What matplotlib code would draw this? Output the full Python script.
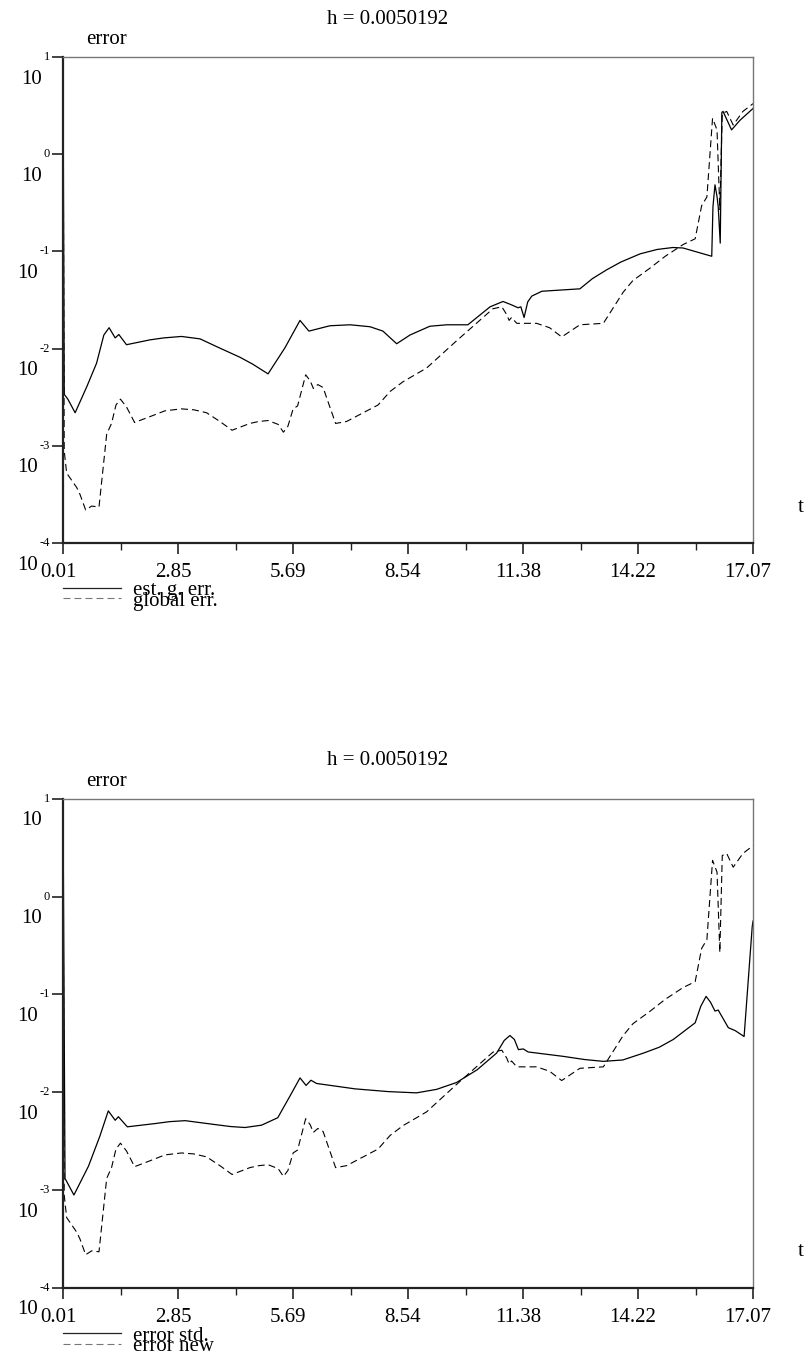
import matplotlib
matplotlib.use('Agg')
import matplotlib.pyplot as plt
import numpy as np
from matplotlib.transforms import ScaledTranslation

plt.rcParams['font.family'] = ['Liberation Serif', 'DejaVu Serif']

# ---------------- data (log10 of error) ----------------
title_text = "h = 0.0050192"
xtick_labels = ["0.01", "2.85", "5.69", "8.54", "11.38", "14.22", "17.07"]
ytick_exponents = [-4, -3, -2, -1, 0, 1]

# dashed curve: "global err." (top) / "error new" (bottom)
t_new = [0.01, 0.04, 0.10, 0.35, 0.43, 0.57, 0.72, 0.90, 1.09, 1.21, 1.32, 1.43,
         1.58, 1.78, 2.16, 2.53, 2.94, 3.25, 3.56, 3.89, 4.19, 4.63, 4.85, 5.08, 5.33, 5.46,
         5.57, 5.70, 5.81, 6.01, 6.12, 6.20, 6.31, 6.44, 6.75, 7.02, 7.80, 8.10,
         8.42, 9.00, 9.74, 10.64, 10.86, 10.98, 11.04, 11.10, 11.23, 11.72, 12.04,
         12.34, 12.79, 13.37, 13.86, 14.10, 14.53, 14.90, 15.34, 15.64, 15.80, 15.93, 16.07,
         16.18, 16.25, 16.31, 16.42, 16.58, 16.82, 17.07]
log_new = [1.0, -3.05, -3.28, -3.43, -3.50, -3.66, -3.62, -3.63, -2.88, -2.77, -2.58, -2.52,
           -2.60, -2.76, -2.70, -2.64, -2.62, -2.63, -2.66, -2.75, -2.84, -2.77, -2.75, -2.74, -2.78, -2.86,
           -2.80, -2.62, -2.59, -2.27, -2.33, -2.41, -2.37, -2.40, -2.77, -2.75, -2.58, -2.44,
           -2.34, -2.20, -1.92, -1.59, -1.57, -1.65, -1.71, -1.68, -1.74, -1.74, -1.785,
           -1.88, -1.755, -1.74, -1.42, -1.30, -1.17, -1.05, -0.93, -0.87, -0.53, -0.44, 0.37,
           0.25, -0.57, 0.42, 0.44, 0.30, 0.44, 0.52]

# solid curve top: "est. g. err."
t_est = [0.01, 0.04, 0.13, 0.31, 0.60, 0.84, 1.02, 1.15, 1.30, 1.39, 1.58, 2.16, 2.50, 2.94,
         3.40, 3.81, 4.39, 4.70, 5.08, 5.50, 5.87, 6.09, 6.61, 7.11, 7.60, 7.92, 8.26, 8.59, 9.08, 9.50,
         10.02, 10.57, 10.89, 11.10, 11.26, 11.33, 11.41, 11.50, 11.60, 11.85, 12.79, 13.10, 13.45,
         13.80, 14.28, 14.70, 15.09, 15.34, 16.05, 16.08, 16.13, 16.18, 16.21, 16.26, 16.30, 16.33,
         16.54, 16.75, 17.07]
log_est = [1.0, -2.47, -2.52, -2.66, -2.39, -2.15, -1.86, -1.785, -1.89, -1.855, -1.96, -1.91, -1.89, -1.875,
           -1.90, -1.98, -2.09, -2.16, -2.26, -1.99, -1.71, -1.82, -1.765, -1.755, -1.775, -1.82, -1.95, -1.86,
           -1.77, -1.755,
           -1.755, -1.57, -1.515, -1.55, -1.58, -1.57, -1.68, -1.52, -1.46, -1.41, -1.385, -1.28, -1.19,
           -1.11, -1.025, -0.98, -0.96, -0.965, -1.05, -0.54, -0.315, -0.435, -0.54, -0.915, 0.43, 0.44,
           0.25, 0.35, 0.47]

# solid curve bottom: "error std."
t_std = [0.01, 0.06, 0.28, 0.64, 0.92, 1.13, 1.30, 1.38, 1.60, 2.28, 2.65, 3.03, 3.77, 4.15, 4.51,
         4.92, 5.32, 5.62, 5.87, 6.02, 6.14, 6.28, 7.23, 8.05, 8.75, 9.25, 9.74, 10.25, 10.73, 10.92,
         11.06, 11.17, 11.27, 11.39, 11.51, 12.38, 12.90, 13.37, 13.85, 14.36, 14.75, 15.10, 15.64, 15.78,
         15.91, 16.02, 16.13, 16.21, 16.46, 16.63, 16.85, 17.05, 17.07]
log_std = [1.0, -2.88, -3.05, -2.755, -2.45, -2.19, -2.286, -2.25, -2.353, -2.32, -2.30, -2.29, -2.33,
           -2.35, -2.36,
           -2.336, -2.26, -2.04, -1.853, -1.93, -1.877, -1.91, -1.965, -1.993, -2.006, -1.97, -1.90, -1.77,
           -1.60, -1.47,
           -1.42, -1.46, -1.564, -1.557, -1.588, -1.633, -1.665, -1.684, -1.67, -1.60, -1.54, -1.46, -1.29,
           -1.12,
           -1.02, -1.08, -1.17, -1.16, -1.34, -1.37, -1.43, -0.31, -0.25]

t_min, t_max = 0.01, 17.07
y_min, y_max = 1e-4, 1e1

# ---------------- figure ----------------
W, H = 806, 1356
fig = plt.figure(figsize=(W / 100, H / 100), dpi=100)


def axrect(l, t, r, b):
    return [l / W, 1 - b / H, (r - l) / W, (b - t) / H]


ax_top = fig.add_axes(axrect(63, 57, 753, 543))
ax_bot = fig.add_axes(axrect(63, 798.7, 753, 1288))

FS = 15
DASH = (6.3, 3.6)


def setup(ax, t_sol, log_sol, lab_sol, t_dash, log_dash, lab_dash):
    l1, = ax.plot(t_sol, np.power(10.0, log_sol), color='black', lw=0.9, label=lab_sol)
    l2, = ax.plot(t_dash, np.power(10.0, log_dash), color='black', lw=0.8,
                  linestyle=(0, DASH), label=lab_dash)
    ax.set_yscale('log')
    ax.set_xlim(t_min, t_max)
    ax.set_ylim(y_min, y_max)

    # spines
    for s in ('top', 'right'):
        ax.spines[s].set_color('#777777')
        ax.spines[s].set_linewidth(1.0)
    for s in ('bottom', 'left'):
        ax.spines[s].set_color('#222222')
        ax.spines[s].set_linewidth(1.6)

    # x ticks
    major = np.linspace(t_min, t_max, len(xtick_labels))
    minor = (major[:-1] + major[1:]) / 2
    ax.set_xticks(major)
    ax.set_xticklabels(xtick_labels, fontsize=FS)
    ax.set_xticks(minor, minor=True)
    ax.tick_params(axis='x', which='major', direction='out', length=8, width=1.2,
                   color='#222222', pad=6.5, top=False)
    ax.tick_params(axis='x', which='minor', direction='out', length=5, width=1.0,
                   color='#222222', top=False)
    off = ScaledTranslation(-5 / 100, 0, fig.dpi_scale_trans)
    for lab in ax.get_xticklabels():
        lab.set_transform(lab.get_transform() + off)

    # y ticks: custom "10" with raised exponent
    ax.set_yticks([10.0 ** e for e in ytick_exponents])
    ax.yaxis.set_minor_locator(matplotlib.ticker.NullLocator())
    ax.tick_params(axis='y', which='major', direction='out', length=8, width=1.2,
                   color='#222222', labelleft=False, right=False)
    ytr = ax.get_yaxis_transform()
    eoff = ScaledTranslation(-13 / 100, 0, fig.dpi_scale_trans)
    for e in ytick_exponents:
        et = ax.text(0, 10.0 ** e, str(e), transform=ytr + eoff, ha='right', va='center',
                     fontsize=9, clip_on=False)
        ax.annotate('10', xy=(0, 10.0 ** e), xycoords=(et, 'data'),
                    xytext=(-2, -22), textcoords='offset pixels',
                    ha='right', va='center', fontsize=FS, annotation_clip=False)

    # labels
    ax.text(23 / 690, 1 + 17 / 486, 'error', transform=ax.transAxes, ha='left',
            va='center', fontsize=FS)
    ax.text((801 - 63) / 690, 36 / 486, 't', transform=ax.transAxes, ha='center',
            va='center', fontsize=FS)
    ax.text((388 - 63) / 690, 1 + 38 / 486, title_text, transform=ax.transAxes,
            ha='center', va='center', fontsize=FS)

    leg = ax.legend(handles=[l1, l2], loc='upper left', bbox_to_anchor=(0, -0.078),
                    frameon=False, borderpad=0, borderaxespad=0, handlelength=2.8,
                    handletextpad=0.58, labelspacing=-0.45, fontsize=FS)
    leg.get_lines()[1].set_color('#777777')
    leg.get_lines()[0].set_color('#222222')


setup(ax_top, t_est, log_est, 'est. g. err.', t_new, log_new, 'global err.')
setup(ax_bot, t_std, log_std, 'error std.', t_new, log_new, 'error new')

fig.savefig('out.png', dpi=100)
